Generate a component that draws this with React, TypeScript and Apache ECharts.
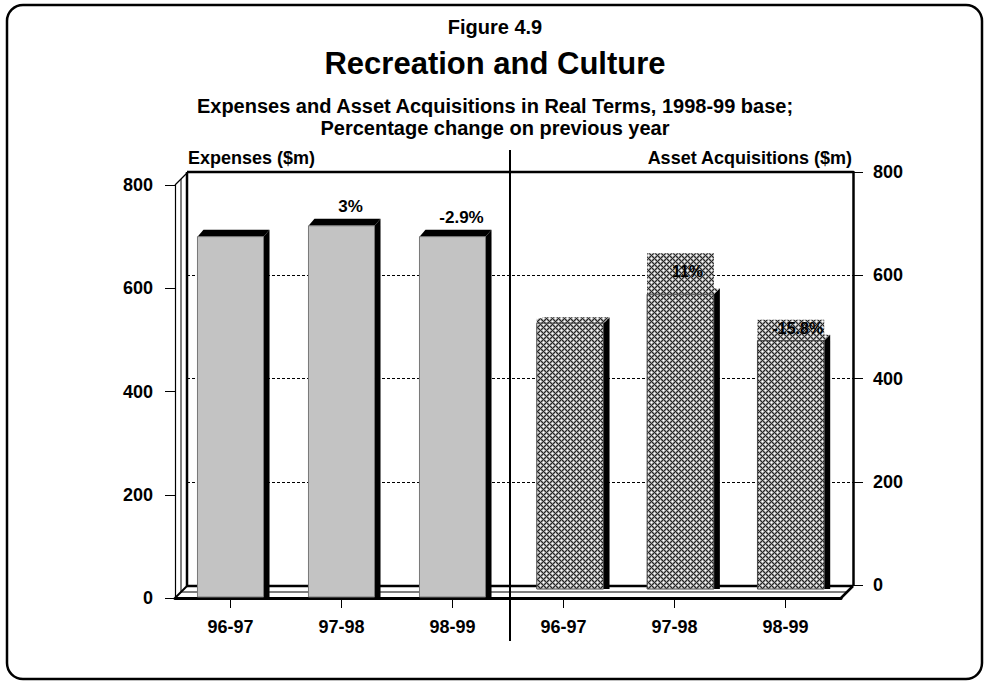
import React, { useEffect, useRef } from 'react';
import * as echarts from 'echarts';

// ---------- data ----------
const categories = ['96-97', '97-98', '98-99', '96-97', '97-98', '98-99'];
const expenses = [700, 721, 700];
const assetAcquisitions = [515, 571, 481];
const expenseChangeLabels = ['', '3%', '-2.9%'];
const assetChangeLabels = ['', '11%', '-15.8%'];
const axisMin = 0;
const axisMax = 800;
const axisStep = 200;
const titleLines = [
  'Figure 4.9',
  'Recreation and Culture',
  'Expenses and Asset Acquisitions in Real Terms, 1998-99 base;',
  'Percentage change on previous year',
];
const leftAxisTitle = 'Expenses ($m)';
const rightAxisTitle = 'Asset Acquisitions ($m)';

// ---------- styling ----------
const FONT = '"Liberation Sans", Arial, Helvetica, sans-serif';
const bold = (px: number) => `bold ${px}px ${FONT}`;
const assetBoxHeights = [5, 41, 21];

function makePattern(): HTMLCanvasElement {
  const n = 6;
  const c = document.createElement('canvas');
  c.width = n;
  c.height = n;
  const ctx = c.getContext('2d') as CanvasRenderingContext2D;
  const near = ['2,0', '4,0', '3,1', '3,5', '5,3', '1,3', '0,2', '0,4'];
  for (let y = 0; y < n; y++) {
    for (let x = 0; x < n; x++) {
      const onLine = (x + y) % 6 === 0 || (x - y + 6) % 6 === 0;
      const isCenter = (x === 3 && y === 0) || (x === 0 && y === 3);
      const nearCenter = near.indexOf(`${x},${y}`) >= 0;
      ctx.fillStyle = onLine ? '#262626' : isCenter ? '#ffffff' : nearCenter ? '#d4d4d4' : '#8e8e8e';
      ctx.fillRect(x, y, 1, 1);
    }
  }
  return c;
}

function textEl(text: string, x: number, y: number, font: string, align: string, vAlign = 'middle', z = 10) {
  return {
    type: 'text',
    x,
    y,
    z,
    style: {
      text,
      font,
      fill: '#000',
      textAlign: align,
      align,
      textVerticalAlign: vAlign,
      verticalAlign: vAlign,
    },
  };
}

function lineEl(x1: number, y1: number, x2: number, y2: number, w: number, z = 1) {
  return {
    type: 'line',
    z,
    shape: { x1, y1, x2, y2 },
    style: { stroke: '#000', lineWidth: w },
  };
}

function buildOption(patternCanvas: HTMLCanvasElement) {
  const pattern: any = { image: patternCanvas, repeat: 'repeat', imageWidth: 6, imageHeight: 6 };

  const axisLabelStyle = { color: '#000', fontSize: 18, fontWeight: 'bold', fontFamily: FONT };

  const renderExpense = (params: any, api: any) => {
    const i = api.value(0);
    const v = api.value(1);
    const top = api.coord([i, v]);
    const base = api.coord([i, 0]);
    const band = api.size([1, 0])[0];
    const w = band * 0.595;
    const x = top[0] - w / 2;
    const yT = top[1];
    const yB = base[1] - 1;
    const dx = 6;
    const dy = 7;
    const label = expenseChangeLabels[params.dataIndex];
    const children: any[] = [
      {
        type: 'polygon',
        shape: { points: [[x + w, yT], [x + w + dx, yT - dy], [x + w + dx, yB], [x + w, yB]] },
        style: { fill: '#000' },
      },
      {
        type: 'polygon',
        shape: { points: [[x, yT], [x + dx, yT - dy], [x + w + dx, yT - dy], [x + w, yT]] },
        style: { fill: '#000' },
      },
      {
        type: 'rect',
        shape: { x, y: yT, width: w, height: yB - yT },
        style: { fill: '#c3c3c3', stroke: '#777', lineWidth: 1 },
      },
    ];
    if (label) {
      children.push({
        type: 'text',
        x: x + w / 2 + 9,
        y: yT - 19,
        style: {
          text: label,
          font: bold(17),
          fill: '#000',
          textAlign: 'center',
          align: 'center',
          textVerticalAlign: 'middle',
          verticalAlign: 'middle',
        },
      });
    }
    return { type: 'group', children };
  };

  const renderAsset = (params: any, api: any) => {
    const i = api.value(0);
    const v = api.value(1);
    const top = api.coord([i, v]);
    const base = api.coord([i, 0]);
    const band = api.size([1, 0])[0];
    const w = band * 0.605;
    const x = top[0] - w / 2;
    const yT = top[1];
    const yB = base[1];
    const dx = 6;
    const dy = 6;
    const k = params.dataIndex;
    const boxH = assetBoxHeights[k];
    const label = assetChangeLabels[k];
    const children: any[] = [
      {
        type: 'polygon',
        shape: { points: [[x + w, yT], [x + w + dx, yT - dy], [x + w + dx, yB], [x + w, yB]] },
        style: { fill: '#000' },
      },
      {
        type: 'polygon',
        shape: { points: [[x, yT], [x + dx, yT - dy], [x + w + dx, yT - dy], [x + w, yT]] },
        style: { fill: pattern },
      },
      {
        type: 'rect',
        shape: { x, y: yT - boxH, width: w, height: boxH },
        style: { fill: pattern },
      },
      {
        type: 'rect',
        shape: { x, y: yT, width: w, height: yB - yT },
        style: { fill: pattern, stroke: '#444', lineWidth: 1 },
      },
    ];
    if (label) {
      children.push({
        type: 'text',
        x: x + w / 2 + 7,
        y: yT - boxH / 2 - 2,
        style: {
          text: label,
          font: bold(16),
          fill: '#000',
          textAlign: 'center',
          align: 'center',
          textVerticalAlign: 'middle',
          verticalAlign: 'middle',
        },
      });
    }
    return { type: 'group', children };
  };

  const graphic: any[] = [
    {
      type: 'rect',
      z: 0,
      shape: { x: 7, y: 5, width: 975, height: 674, r: 16 },
      style: { fill: 'transparent', stroke: '#000', lineWidth: 2.5 },
    },
    textEl(titleLines[0], 495, 27, bold(20), 'center'),
    textEl(titleLines[1], 495, 63, bold(31), 'center'),
    textEl(titleLines[2], 495, 106, bold(20), 'center'),
    textEl(titleLines[3], 495, 128, bold(20), 'center'),
    textEl(leftAxisTitle, 188, 158, bold(18), 'left'),
    textEl(rightAxisTitle, 852, 158, bold(18), 'right'),
    lineEl(181, 592, 181, 179, 1),
    lineEl(187, 586, 187, 172, 2.5),
    lineEl(175, 185, 187, 173, 1.2),
    lineEl(187, 172, 853, 172, 2.5),
    lineEl(187, 586, 853, 586, 2.5),
    lineEl(181, 592, 848, 592, 1),
    lineEl(175, 598, 187, 586, 2),
    lineEl(841, 598, 853, 586, 2.5),
    lineEl(510, 150, 510, 641, 2, 20),
  ];

  return {
    animation: false,
    backgroundColor: '#ffffff',
    grid: [
      { left: 175, top: 185, width: 666, height: 413 },
      { left: 187, top: 172, width: 666, height: 413 },
      { left: 184, top: 176, width: 662, height: 413 },
    ],
    xAxis: [
      {
        gridIndex: 0,
        type: 'category',
        data: categories,
        boundaryGap: true,
        z: 3,
        axisLine: { show: true, lineStyle: { color: '#000', width: 3 } },
        axisTick: { show: true, alignWithLabel: true, length: 10, lineStyle: { color: '#000', width: 1 } },
        axisLabel: { ...axisLabelStyle, margin: 20, interval: 0 },
        splitLine: { show: false },
      },
      { gridIndex: 1, type: 'category', data: categories, show: false },
      { gridIndex: 2, type: 'category', data: categories, show: false },
    ],
    yAxis: [
      {
        gridIndex: 0,
        type: 'value',
        min: axisMin,
        max: axisMax,
        interval: axisStep,
        position: 'left',
        axisLine: { show: true, lineStyle: { color: '#000', width: 1.2 } },
        axisTick: { show: true, length: 10, lineStyle: { color: '#000', width: 1 } },
        axisLabel: { ...axisLabelStyle, margin: 22 },
        splitLine: { show: false },
      },
      {
        gridIndex: 1,
        type: 'value',
        min: axisMin,
        max: axisMax,
        interval: axisStep,
        position: 'right',
        axisLine: { show: true, lineStyle: { color: '#000', width: 2.5 } },
        axisTick: { show: true, length: 10, lineStyle: { color: '#000', width: 1 } },
        axisLabel: { ...axisLabelStyle, margin: 20 },
        splitLine: { show: true, lineStyle: { color: '#000', width: 1, type: [3, 2] } },
      },
      { gridIndex: 2, type: 'value', min: axisMin, max: axisMax, interval: axisStep, show: false },
    ],
    series: [
      {
        name: 'Expenses',
        type: 'custom',
        xAxisIndex: 0,
        yAxisIndex: 0,
        z: 5,
        renderItem: renderExpense,
        data: expenses.map((v, i) => [i, v]),
      },
      {
        name: 'Asset Acquisitions',
        type: 'custom',
        xAxisIndex: 2,
        yAxisIndex: 2,
        z: 5,
        renderItem: renderAsset,
        data: assetAcquisitions.map((v, i) => [i + 3, v]),
      },
    ],
    graphic,
  };
}

export default function App() {
  const ref = useRef<HTMLDivElement>(null);
  useEffect(() => {
    if (!ref.current) return;
    const chart = echarts.init(ref.current, null, { renderer: 'svg' });
    chart.setOption(buildOption(makePattern()) as any);
    return () => chart.dispose();
  }, []);
  return (
    <div
      ref={ref}
      style={{ position: 'fixed', left: 0, top: 0, width: 985, height: 682, background: '#fff' }}
    />
  );
}
